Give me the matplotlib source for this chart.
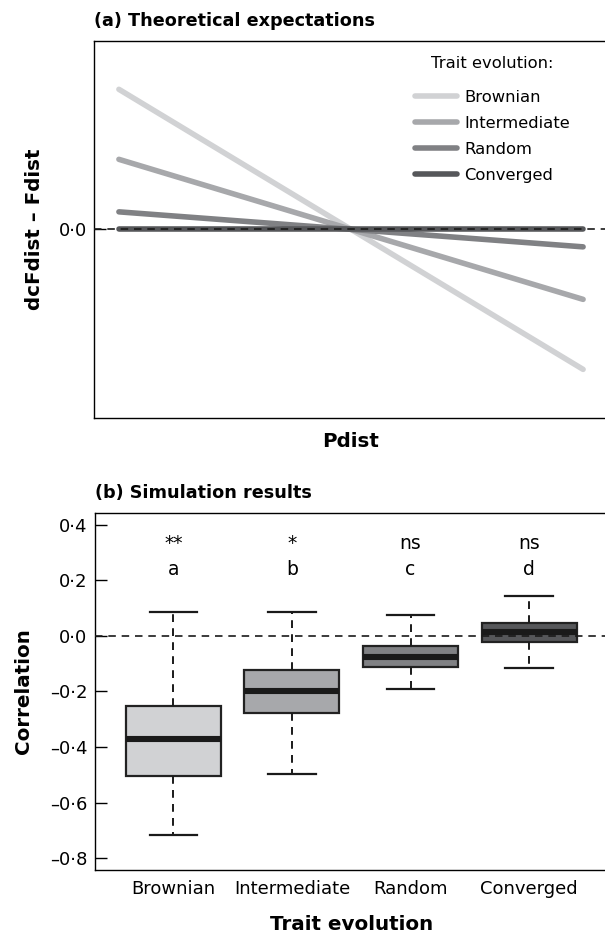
import matplotlib
matplotlib.use("Agg")
import matplotlib.pyplot as plt

# (a) theoretical expectations: value at the two ends of Pdist
pdist = [0.0, 1.0]
brownian_line = [1.0, -1.0]
intermediate_line = [0.5, -0.5]
random_line = [0.125, -0.125]
converged_line = [0.0, 0.0]
line_names = ["Brownian", "Intermediate", "Random", "Converged"]
greys = ["#d1d2d4", "#a7a8ab", "#808184", "#56575a"]

# (b) simulation results, box summaries
groups = ["Brownian", "Intermediate", "Random", "Converged"]
whisk_hi = [0.088, 0.085, 0.075, 0.145]
q3 = [-0.251, -0.121, -0.035, 0.046]
med = [-0.372, -0.198, -0.075, 0.016]
q1 = [-0.505, -0.277, -0.111, -0.021]
whisk_lo = [-0.717, -0.497, -0.192, -0.115]
stars = ["**", "*", "ns", "ns"]
letters = ["a", "b", "c", "d"]
yticks_b = [0.4, 0.2, 0.0, -0.2, -0.4, -0.6, -0.8]


def fmt(v):
    # journal style: middle dot decimal, en dash minus
    return f"{v:.1f}".replace(".", "\u00b7").replace("-", "\u2013")


W, H = 605, 933
fig = plt.figure(figsize=(W / 100, H / 100), dpi=100)

dark = "#1a1a1a"

#### panel a ####
ax1 = fig.add_axes([94.3 / W, 1 - 417.7 / H, 513.4 / W, 376.7 / H])
lines = []
for ys, name, c in zip([brownian_line, intermediate_line, random_line, converged_line], line_names, greys):
    ln, = ax1.plot(pdist, ys, color=c, lw=4.0, solid_capstyle="round", label=name)
    lines.append(ln)
ax1.axhline(0, color=dark, lw=1.2, dashes=(4.5, 3.5), zorder=5)
ax1.set_xlim(-0.053, 1.053)
ax1.set_ylim(-1.345, 1.345)
ax1.set_xticks([])
ax1.set_yticks([0.0])
ax1.set_yticklabels([fmt(0.0)], fontsize=13)
ax1.tick_params(axis="y", direction="in", length=8.6, width=1, pad=5.5)
for s in ax1.spines.values():
    s.set_linewidth(1)
ax1.set_xlabel("Pdist", fontsize=14.3, fontweight="bold", va="baseline")
ax1.xaxis.set_label_coords(0.5, -(447 - 417.7) / 376.7)
ax1.set_ylabel("dcFdist \u2013 Fdist", fontsize=14.3, fontweight="bold", va="center")
ax1.yaxis.set_label_coords((34.5 - 94.3) / 513.4, 0.5)

fig.text(492.5 / W, 1 - 63 / H, "Trait evolution:", fontsize=11.8, ha="center", va="center")
ax1.legend(handles=lines, loc="upper left", bbox_to_anchor=(415 / W, 1 - 89.7 / H),
           bbox_transform=fig.transFigure, frameon=False, fontsize=11.8,
           handlelength=2.56, handletextpad=0.43, labelspacing=0.67,
           borderpad=0, borderaxespad=0)
fig.text(94 / W, 1 - 26 / H, "(a) Theoretical expectations", fontsize=12.7,
         fontweight="bold", ha="left", va="baseline")

#### panel b ####
ax2 = fig.add_axes([95 / W, 1 - 870 / H, 512.5 / W, 357.3 / H])
stats = []
for i, g in enumerate(groups):
    stats.append(dict(label=g, med=med[i], q1=q1[i], q3=q3[i],
                      whislo=whisk_lo[i], whishi=whisk_hi[i], fliers=[]))
pos = [1, 2, 3, 4]
bp = ax2.bxp(stats, positions=pos, widths=0.8, capwidths=0.4, patch_artist=True,
             showfliers=False,
             boxprops=dict(linewidth=1.6, edgecolor="#222222"),
             medianprops=dict(color=dark, linewidth=4.4, solid_capstyle="butt"),
             whiskerprops=dict(color=dark, linewidth=1.4, dashes=(4, 3.2)),
             capprops=dict(color=dark, linewidth=1.6))
for box, c in zip(bp["boxes"], greys):
    box.set_facecolor(c)
ax2.axhline(0, color=dark, lw=1.2, dashes=(4.5, 3.5), zorder=5)

for p, st, lt in zip(pos, stars, letters):
    ax2.text(p, 0.312, st, fontsize=13.5, ha="center", va="baseline")
    ax2.text(p, 0.22, lt, fontsize=13.5, ha="center", va="baseline")

ax2.set_xlim(0.34, 4.66)
ax2.set_ylim(-0.843, 0.444)
ax2.set_yticks(yticks_b)
ax2.set_yticklabels([fmt(v) for v in yticks_b], fontsize=13)
ax2.set_xticks(pos)
ax2.set_xticklabels(groups, fontsize=13)
ax2.tick_params(axis="y", direction="in", length=8.6, width=1, pad=5.5)
ax2.tick_params(axis="x", length=0, pad=7)
for s in ax2.spines.values():
    s.set_linewidth(1)
ax2.set_xlabel("Trait evolution", fontsize=14.3, fontweight="bold", va="baseline")
ax2.xaxis.set_label_coords(0.5, -(930 - 870) / 357.3)
ax2.set_ylabel("Correlation", fontsize=14.3, fontweight="bold", va="center")
ax2.yaxis.set_label_coords((23.5 - 95) / 512.5, 0.5)
fig.text(95 / W, 1 - 497.7 / H, "(b) Simulation results", fontsize=12.7,
         fontweight="bold", ha="left", va="baseline")

fig.savefig("out.png", dpi=100)
